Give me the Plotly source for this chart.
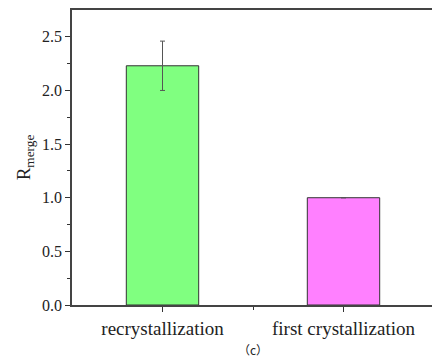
import plotly.graph_objects as go

categories = ["recrystallization", "first crystallization"]
positions = [1, 2]
values = [2.23, 1.0]
errors = [0.23, float("nan")]
colors = ["#80FF80", "#FF80FF"]
y_tick_vals = [0, 0.5, 1.0, 1.5, 2.0, 2.5]
y_tick_text = ["0.0", "0.5", "1.0", "1.5", "2.0", "2.5"]

font_family = "Liberation Serif, serif"

W, H = 432, 352
L, R, T, B = 64, 6, 2, 55

fig = go.Figure()
fig.add_trace(go.Bar(
    x=positions, y=values, width=0.4,
    marker=dict(color=colors, line=dict(color="#333333", width=1)),
    error_y=dict(type="data", array=errors, visible=True,
                 color="#555555", thickness=1, width=2.5),
    showlegend=False,
))

fig.update_layout(
    width=W, height=H,
    margin=dict(l=L, r=R, t=T, b=B, autoexpand=False),
    paper_bgcolor="white", plot_bgcolor="white",
    font=dict(family=font_family, size=16, color="#222222"),
    xaxis=dict(
        range=[0.5, 2.5], tickmode="array", tickvals=positions, ticktext=categories,
        ticks="outside", ticklen=5, tickwidth=1, tickcolor="#333333",
        showline=True, linecolor="#444444", linewidth=1.5, mirror=True,
        showgrid=False, zeroline=False, automargin=False,
        tickfont=dict(size=19, family=font_family),
        minor=dict(tickvals=[1.5], ticks="outside", ticklen=3, tickcolor="#333333", tickwidth=1),
    ),
    yaxis=dict(
        range=[0, 2.75], tickmode="array", tickvals=y_tick_vals, ticktext=y_tick_text,
        ticks="outside", ticklen=5, tickwidth=1, tickcolor="#333333",
        showline=True, linecolor="#444444", linewidth=1.5, mirror=True,
        showgrid=False, zeroline=False, automargin=False,
        tickfont=dict(size=16, family=font_family),
        minor=dict(tickvals=[0.25, 0.75, 1.25, 1.75, 2.25], ticks="outside", ticklen=3,
                   tickcolor="#333333", tickwidth=1),
        title=dict(text="R<sub>merge</sub>", font=dict(size=19, family=font_family), standoff=6),
    ),
)
plot_w = W - L - R
plot_h = H - T - B
fig.add_annotation(
    text="（c）", x=(245 - L) / plot_w, y=(297 - 331) / plot_h,
    xref="paper", yref="paper", yanchor="top", showarrow=False,
    font=dict(size=12, family="Noto Sans CJK SC"),
)

fig.write_html("out.html")
